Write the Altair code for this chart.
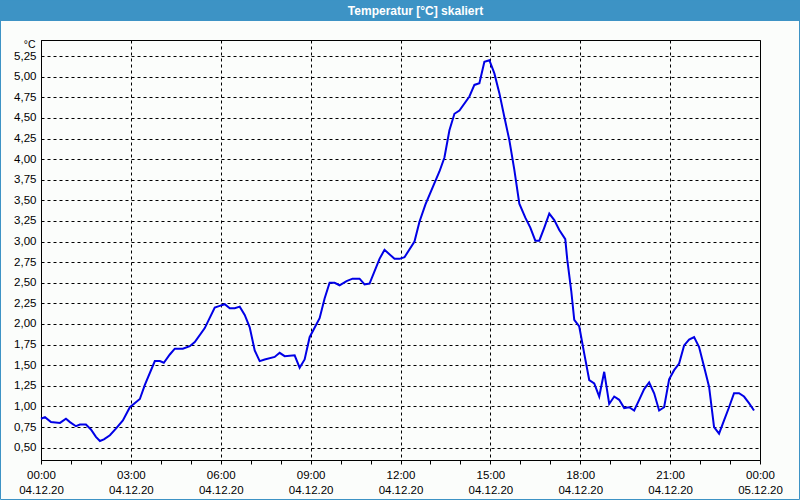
import altair as alt
import pandas as pd

# minutes after 2020-12-04 00:00 and temperature values
minutes = [0, 8, 20, 38, 50, 58, 70, 78, 90, 100, 110, 118, 126, 138, 150, 164, 178, 198,
           208, 228, 238, 246, 258, 268, 284, 298, 308, 328, 348, 358, 368, 378, 388, 398,
           408, 418, 428, 438, 448, 468, 478, 488, 508, 518, 528, 538, 558, 568, 578, 588,
           598, 612, 624, 638, 648, 658, 678, 688, 708, 718, 728, 748, 758, 770, 788, 798,
           808, 818, 828, 838, 858, 868, 878, 888, 898, 908, 918, 928, 938, 948, 958, 970,
           980, 990, 998, 1008, 1018, 1028, 1038, 1050, 1054, 1062, 1068, 1078, 1088, 1098,
           1108, 1118, 1128, 1138, 1148, 1158, 1168, 1178, 1188, 1198, 1208, 1218, 1228,
           1238, 1248, 1258, 1268, 1278, 1288, 1298, 1308, 1318, 1328, 1338, 1348, 1358,
           1368, 1378, 1388, 1398, 1408, 1418, 1428]
temps = [0.85, 0.87, 0.81, 0.80, 0.85, 0.81, 0.76, 0.78, 0.78, 0.72, 0.63, 0.58, 0.60, 0.65,
         0.73, 0.83, 0.99, 1.09, 1.26, 1.55, 1.55, 1.53, 1.63, 1.70, 1.70, 1.73, 1.78, 1.95,
         2.20, 2.22, 2.24, 2.19, 2.19, 2.21, 2.11, 1.96, 1.68, 1.55, 1.57, 1.60, 1.65, 1.61,
         1.62, 1.47, 1.57, 1.84, 2.07, 2.31, 2.50, 2.50, 2.47, 2.52, 2.55, 2.55, 2.48, 2.49,
         2.79, 2.90, 2.79, 2.79, 2.81, 3.00, 3.24, 3.45, 3.71, 3.85, 4.02, 4.35, 4.55, 4.59,
         4.76, 4.90, 4.92, 5.18, 5.20, 5.04, 4.80, 4.51, 4.23, 3.87, 3.46, 3.29, 3.17, 3.01,
         3.01, 3.17, 3.34, 3.26, 3.14, 3.03, 2.78, 2.40, 2.05, 1.97, 1.64, 1.32, 1.28, 1.12,
         1.42, 1.03, 1.12, 1.08, 0.98, 0.99, 0.95, 1.08, 1.21, 1.29, 1.16, 0.95, 0.99, 1.33,
         1.44, 1.52, 1.74, 1.81, 1.84, 1.72, 1.48, 1.24, 0.75, 0.67, 0.83, 0.99, 1.16, 1.16,
         1.12, 1.04, 0.95]

y_ticks = [0.5, 0.75, 1.0, 1.25, 1.5, 1.75, 2.0, 2.25, 2.5, 2.75, 3.0, 3.25, 3.5, 3.75,
           4.0, 4.25, 4.5, 4.75, 5.0, 5.25]
hour_ticks = list(range(0, 25))
title_text = "Temperatur [°C] skaliert"
unit_text = "°C"

BLUE = "#3d93c5"
FONT = "Liberation Sans"

start = pd.Timestamp("2020-12-04 00:00:00")
df = pd.DataFrame({
    "t": [(start + pd.Timedelta(minutes=m)).strftime("%Y-%m-%dT%H:%M:%S") for m in minutes],
    "v": temps,
})

x_values = []
for h in hour_ticks:
    ts = start + pd.Timedelta(hours=h)
    x_values.append(alt.DateTime(year=ts.year, month=ts.month, date=ts.day, hours=ts.hour))

x_dom = [alt.DateTime(year=2020, month=12, date=4, hours=0),
         alt.DateTime(year=2020, month=12, date=5, hours=0)]

line = alt.Chart(df).mark_line(color="#0000e6", strokeWidth=2).encode(
    x=alt.X("t:T",
            scale=alt.Scale(domain=x_dom, nice=False),
            axis=alt.Axis(
                values=x_values,
                title=None,
                labelExpr="hours(datum.value) % 3 == 0 ? [timeFormat(datum.value, '%H:%M'), timeFormat(datum.value, '%d.%m.%y')] : ''",
                tickSize=4,
                tickColor="#000",
                labelPadding=5,
                labelLineHeight=15,
                labelFlush=False,
                labelOverlap=False,
                labelBaseline="top",
                grid=True,
                gridDash=[3, 3],
                gridColor="#000",
                gridOpacity={"condition": {"test": "hours(datum.value) % 3 == 0", "value": 1}, "value": 0},
            )),
    y=alt.Y("v:Q",
            scale=alt.Scale(domain=[0.35, 5.445], nice=False, zero=False),
            axis=alt.Axis(
                values=y_ticks,
                labelExpr="replace(format(datum.value, '.2f'), '.', ',')",
                ticks=False,
                labelPadding=5,
                grid=True,
                gridDash=[3, 3],
                gridColor="#000",
                gridOpacity=1,
                title=unit_text,
                titleAngle=0,
                titleX=-6,
                titleY=4,
                titleAlign="right",
                titleBaseline="middle",
                titleFont=FONT,
                titleFontSize=10.5,
                titleFontWeight="normal",
                titleColor="#000",
            )),
)

one = alt.Data(values=[{}])

bar = alt.Chart(one).mark_rect(color=BLUE).encode(
    x=alt.value(-41), x2=alt.value(759), y=alt.value(-40), y2=alt.value(-19)
)
title = alt.Chart(one).mark_text(
    text=title_text, color="white", font=FONT, fontSize=12, fontWeight="bold",
    align="center", baseline="middle"
).encode(x=alt.value(374.5), y=alt.value(-29.5))
border = alt.Chart(one).mark_rect(filled=False, stroke=BLUE, strokeWidth=1).encode(
    x=alt.value(-40.5), x2=alt.value(758.5), y=alt.value(-40), y2=alt.value(459.5)
)

chart = alt.layer(line, bar, title, border).properties(
    width=719, height=420,
    padding={"left": 41, "top": 40, "right": 40, "bottom": 40},
    autosize=alt.AutoSizeParams(type="none"),
    background="#fbfdfb",
).configure_axis(
    labelFont=FONT, labelFontSize=11.5, labelColor="#000",
    domainColor="#000", domainWidth=1,
).configure_view(stroke="#000", strokeWidth=1)

chart.save("out.html", embed_options={"renderer": "svg", "actions": False})
